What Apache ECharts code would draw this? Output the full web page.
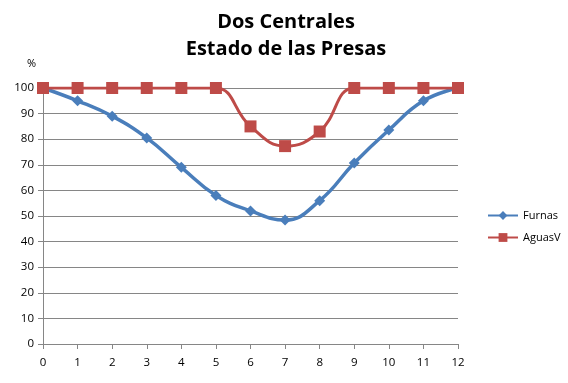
<!DOCTYPE html>
<html>
<head>
<meta charset="utf-8">
<script src="https://cdn.jsdelivr.net/npm/echarts@6/dist/echarts.min.js"></script>
<style>
  html, body { margin: 0; padding: 0; background: #fff; }
  #chart { width: 568px; height: 383px; }
</style>
</head>
<body>
<div id="chart"></div>
<script>
  // data
  const meses = [0, 1, 2, 3, 4, 5, 6, 7, 8, 9, 10, 11, 12];
  const furnas = [100, 95, 89, 80.5, 69, 58, 52, 48.4, 56, 70.7, 83.6, 95, 100];
  const aguasV = [100, 100, 100, 100, 100, 100, 85, 77.3, 83, 100, 100, 100, 100];

  const font = '"Open Sans", "Noto Sans", sans-serif';
  const chart = echarts.init(document.getElementById('chart'));

  const option = {
    animation: false,
    title: {
      text: 'Dos Centrales\nEstado de las Presas',
      left: 281,
      top: 4,
      textAlign: 'center',
      textStyle: {
        fontFamily: font,
        fontSize: 20,
        fontWeight: 'bold',
        color: '#000',
        lineHeight: 27
      }
    },
    legend: {
      orient: 'vertical',
      left: 482,
      top: 205,
      itemGap: 11,
      itemWidth: 30,
      itemHeight: 11,
      textStyle: { fontFamily: font, fontSize: 11, color: '#000' },
      data: ['Furnas', 'AguasV']
    },
    grid: {
      left: 43,
      right: 110,
      top: 88,
      bottom: 39
    },
    xAxis: {
      type: 'value',
      min: 0,
      max: 12,
      interval: 1,
      axisLine: { lineStyle: { color: '#868686', width: 1 } },
      axisTick: { show: true, inside: false, length: 5, lineStyle: { color: '#868686' } },
      axisLabel: { fontFamily: font, fontSize: 11.5, color: '#000', margin: 13 },
      splitLine: { show: false }
    },
    yAxis: {
      type: 'value',
      min: 0,
      max: 100,
      interval: 10,
      name: '%',
      nameLocation: 'end',
      nameGap: 19,
      nameTextStyle: { fontFamily: font, fontSize: 11, color: '#000', align: 'right', padding: [0, 7, 0, 0] },
      axisLine: { show: true, lineStyle: { color: '#868686', width: 1 } },
      axisTick: { show: true, inside: false, length: 5, lineStyle: { color: '#868686' } },
      axisLabel: { fontFamily: font, fontSize: 11.5, color: '#000', margin: 9 },
      splitLine: { show: true, lineStyle: { color: '#868686', width: 1 } }
    },
    series: [
      {
        name: 'Furnas',
        type: 'line',
        smooth: 0.45,
        data: meses.map((m, i) => [m, furnas[i]]),
        symbol: 'diamond',
        symbolSize: 11,
        lineStyle: { color: '#4A7EBB', width: 3.5 },
        itemStyle: { color: '#4A7EBB' }
      },
      {
        name: 'AguasV',
        type: 'line',
        smooth: 0.45,
        data: meses.map((m, i) => [m, aguasV[i]]),
        symbol: 'rect',
        symbolSize: 12,
        lineStyle: { color: '#BE4B48', width: 3 },
        itemStyle: { color: '#BE4B48' }
      }
    ]
  };

  chart.setOption(option);
</script>
</body>
</html>
